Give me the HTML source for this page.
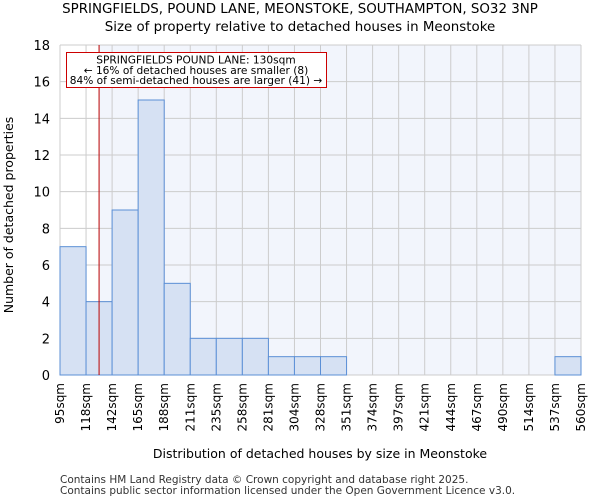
<!DOCTYPE html>
<html><head><meta charset="utf-8"><style>
body{margin:0;background:#fff;font-family:"DejaVu Sans","Liberation Sans",sans-serif}
</style></head><body>
<svg id="c" width="600" height="500" xmlns="http://www.w3.org/2000/svg" font-family="DejaVu Sans, Liberation Sans, sans-serif">
<text x="300" y="13" text-anchor="middle" font-size="13.4">SPRINGFIELDS, POUND LANE, MEONSTOKE, SOUTHAMPTON, SO32 3NP</text>
<text x="300" y="31" text-anchor="middle" font-size="13.4">Size of property relative to detached houses in Meonstoke</text>
<g id="plot"></g>
<text x="320" y="458" text-anchor="middle" font-size="12.5">Distribution of detached houses by size in Meonstoke</text>
<text transform="translate(13,215) rotate(-90)" text-anchor="middle" font-size="12.5">Number of detached properties</text>
<text x="60" y="483" font-size="10.5" fill="#333">Contains HM Land Registry data © Crown copyright and database right 2025.</text>
<text x="60" y="494" font-size="10.5" fill="#333">Contains public sector information licensed under the Open Government Licence v3.0.</text>
</svg>
<script>
const binLabels=["95sqm","118sqm","142sqm","165sqm","188sqm","211sqm","235sqm","258sqm","281sqm","304sqm","328sqm","351sqm","374sqm","397sqm","421sqm","444sqm","467sqm","490sqm","514sqm","537sqm","560sqm"];
const counts=[7,4,9,15,5,2,2,2,1,1,1,0,0,0,0,0,0,0,0,1];
const yTicks=[0,2,4,6,8,10,12,14,16,18];
const markerBin=1.5;
const ns="http://www.w3.org/2000/svg";
const L=60,R=581,T=45,B=375,yMax=18;
const g=document.getElementById('plot');
const n=counts.length;
const xs=i=>L+(R-L)*i/n;
const ys=v=>B-(B-T)*v/yMax;
function mk(t,a){const e=document.createElementNS(ns,t);for(const k in a)e.setAttribute(k,a[k]);g.appendChild(e);return e;}
const mx=xs(markerBin);
let e=mk('rect',{x:L,y:T,width:R-L,height:B-T,fill:'#f2f5fc'});


e=mk('rect',{x:L,y:T,width:mx-L,height:B-T,fill:'#ffffff'});


yTicks.forEach(v=>{
 e=mk('line',{x1:L,x2:R,y1:ys(v),y2:ys(v),stroke:'#cccccc','stroke-width':1});
 
 
 e=mk('text',{x:L-10,y:ys(v)+5,'text-anchor':'end','font-size':13});
 e.textContent=v;
 
 
});
binLabels.forEach((lab,i)=>{
 e=mk('line',{x1:xs(i),x2:xs(i),y1:T,y2:B,stroke:'#cccccc','stroke-width':1});
 
 
 const x=xs(i)+4;
 e=mk('text',{x:x,y:B+8,'text-anchor':'end','font-size':12,transform:`rotate(-90 ${x} ${B+8})`});
 e.textContent=lab;
 
 
});
counts.forEach((c,i)=>{
 if(c<=0)return;
 e=mk('rect',{x:xs(i),y:ys(c),width:xs(i+1)-xs(i),height:B-ys(c),fill:'#d6e1f3',stroke:'#5b8fd6','stroke-width':1});
 
 
});
e=mk('line',{x1:mx,x2:mx,y1:T,y2:B,stroke:'#bb0000','stroke-width':1});


e=mk('rect',{x:66.5,y:52.5,width:260,height:35,fill:'#fff',stroke:'#cc0000','stroke-width':1});


["SPRINGFIELDS POUND LANE: 130sqm","← 16% of detached houses are smaller (8)","84% of semi-detached houses are larger (41) →"].forEach((t,i)=>{
 e=mk('text',{x:196,y:63.5+i*10.3,'text-anchor':'middle','font-size':10.6});
 e.textContent=t;
 
 
});
</script>
</body></html>
